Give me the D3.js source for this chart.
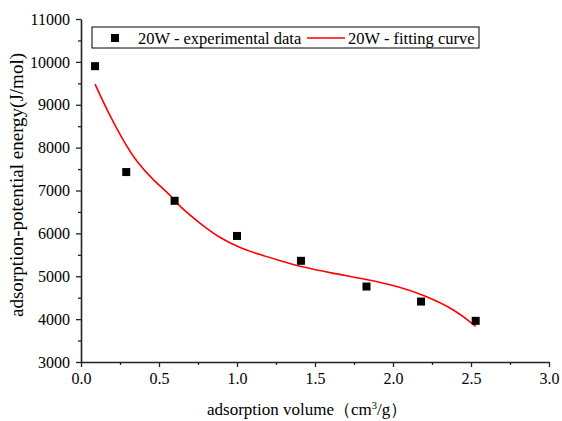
<!DOCTYPE html>
<html>
<head>
<meta charset="utf-8">
<script src="https://cdn.jsdelivr.net/npm/d3@7"></script>
<style>
	body { margin: 0; background: #fff; }
	svg text { font-family: "Liberation Serif", "Times New Roman", Times, "DejaVu Serif", serif !important; fill: #000; }
</style>
</head>
<body>
<script>
// experimental points
const expX = [0.09, 0.29, 0.60, 1.00, 1.41, 1.83, 2.18, 2.53];
const expY = [9900, 7430, 6760, 5940, 5360, 4760, 4410, 3960];

// fitting curve
const fitX = [0.09, 0.17, 0.26, 0.36, 0.47, 0.58, 0.63, 0.76, 0.89, 1.02, 1.15, 1.27, 1.40, 1.61, 1.83, 2.04, 2.19, 2.40, 2.53];
const fitY = [9480, 8850, 8230, 7640, 7220, 6870, 6630, 6240, 5890, 5660, 5500, 5370, 5230, 5070, 4930, 4760, 4570, 4220, 3830];

const xTicks = [0, 0.5, 1.0, 1.5, 2.0, 2.5, 3.0];
const yTicks = [3000, 4000, 5000, 6000, 7000, 8000, 9000, 10000, 11000];
const legendLabels = ['20W - experimental data', '20W - fitting curve'];

const W = 562, H = 421;
const mLeft = 81, mRight = 549, mTop = 19, mBottom = 362;

let svg = d3.select('body').append('svg')
	.attr('width', W)
	.attr('height', H);

let x = d3.scaleLinear().domain([0, 3]).range([mLeft, mRight]);
let y = d3.scaleLinear().domain([3000, 11000]).range([mBottom, mTop]);

// minor ticks
svg.append('g')
	.attr('transform', `translate(0, ${mBottom})`)
	.call(d3.axisBottom(x).tickValues(d3.range(0.25, 3, 0.5)).tickSize(3).tickFormat(''))
	.call(g => g.select('.domain').remove());
svg.append('g')
	.attr('transform', `translate(${mLeft}, 0)`)
	.call(d3.axisLeft(y).tickValues(d3.range(3500, 11000, 1000)).tickSize(3).tickFormat(''))
	.call(g => g.select('.domain').remove());

let xAxis = svg.append('g')
	.attr('transform', `translate(0, ${mBottom})`)
	.call(d3.axisBottom(x).tickValues(xTicks).tickSize(5).tickSizeOuter(0).tickPadding(6).tickFormat(d3.format('.1f')));
let yAxis = svg.append('g')
	.attr('transform', `translate(${mLeft}, 0)`)
	.call(d3.axisLeft(y).tickValues(yTicks).tickSize(5).tickSizeOuter(0).tickPadding(6).tickFormat(d => d));

[xAxis, yAxis].forEach(a => {
	a.attr('font-family', null).attr('font-size', null);
	a.selectAll('text').style('font-size', '16px').attr('fill', '#000');
	a.select('.domain').attr('stroke', '#222').attr('stroke-width', 1.6);
});
svg.selectAll('.tick line').attr('stroke', '#222').attr('stroke-width', 1.3);

// fitting curve
let line = d3.line()
	.x((d, i) => x(fitX[i]))
	.y(d => y(d))
	.curve(d3.curveBasis);

svg.append('path')
	.datum(fitY)
	.attr('d', line)
	.attr('fill', 'none')
	.attr('stroke', '#ff0000')
	.attr('stroke-width', 1.6);

// experimental squares
svg.selectAll('rect.pt')
	.data(expY)
	.enter()
	.append('rect')
	.attr('class', 'pt')
	.attr('x', (d, i) => x(expX[i]) - 4)
	.attr('y', d => y(d) - 4)
	.attr('width', 8)
	.attr('height', 8)
	.attr('fill', '#000');

// legend
let legend = svg.append('g');
legend.append('rect')
	.attr('x', 92).attr('y', 27)
	.attr('width', 387).attr('height', 21)
	.attr('fill', '#fff')
	.attr('stroke', '#000')
	.attr('stroke-width', 1);
legend.append('rect')
	.attr('x', 111).attr('y', 34)
	.attr('width', 8).attr('height', 8)
	.attr('fill', '#000');
legend.append('text')
	.attr('x', 138).attr('y', 44)
	.style('font-size', '16.5px')
	.text(legendLabels[0]);
legend.append('line')
	.attr('x1', 307).attr('x2', 345)
	.attr('y1', 38).attr('y2', 38)
	.attr('stroke', '#ff0000')
	.attr('stroke-width', 1.6);
legend.append('text')
	.attr('x', 348).attr('y', 44)
	.style('font-size', '16.5px')
	.text(legendLabels[1]);

// axis titles
let xt = svg.append('text')
	.attr('x', 207).attr('y', 415)
	.style('font-size', '17px');
xt.append('tspan').text('adsorption volume（cm');
xt.append('tspan').attr('dy', -6).style('font-size', '10.5px').text('3');
xt.append('tspan').attr('dy', 6).text('/g）');

svg.append('text')
	.attr('transform', `translate(23, 185) rotate(-90)`)
	.attr('text-anchor', 'middle')
	.style('font-size', '19px')
	.text('adsorption-potential energy(J/mol)');
</script>
</body>
</html>
